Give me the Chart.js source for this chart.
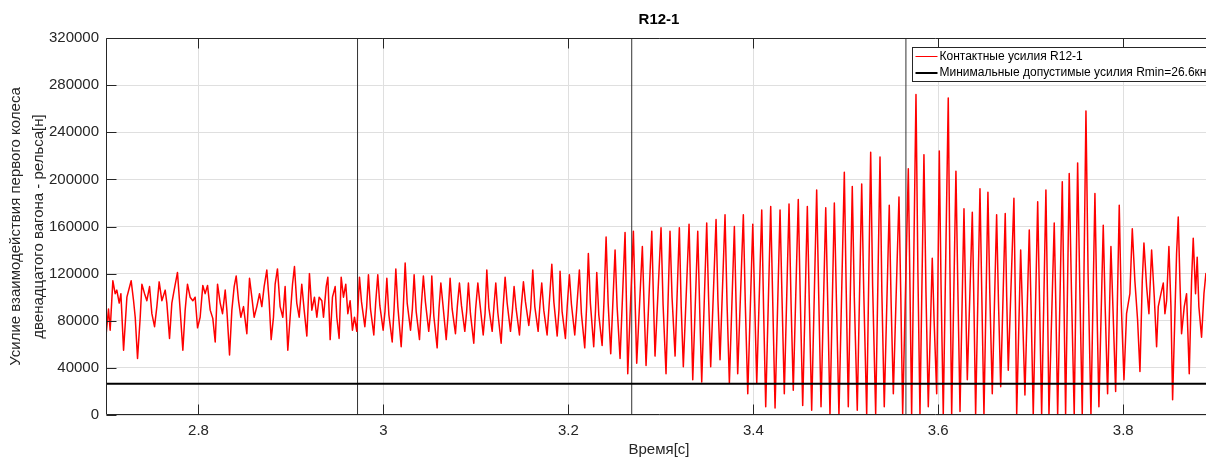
<!DOCTYPE html>
<html lang="ru">
<head>
<meta charset="utf-8">
<title>R12-1</title>
<script src="https://cdn.jsdelivr.net/npm/chart.js@4.4.1/dist/chart.umd.min.js"></script>
<style>
  html, body { margin: 0; padding: 0; background: #fff; overflow: hidden; }
  #wrap { width: 1212px; height: 459px; }
</style>
</head>
<body>
<div id="wrap"><canvas id="force-chart" width="1212" height="459"></canvas></div>
<script>
// Contact force samples: time [s] and force [kN]
const timeS = [
  // 2.70 - 2.97 s: irregular ripple around 85 kN
  2.7002, 2.7027, 2.7045, 2.7074, 2.7099, 2.7117, 2.7143, 2.7161, 2.7190, 2.7226,
  2.7272, 2.7298, 2.7316, 2.7341, 2.7370, 2.7388, 2.7417, 2.7442, 2.7471, 2.7496,
  2.7525, 2.7550, 2.7575, 2.7604, 2.7640, 2.7658, 2.7687, 2.7712, 2.7737, 2.7773,
  2.7802, 2.7831, 2.7856, 2.7881, 2.7910, 2.7939, 2.7964, 2.7990, 2.8018, 2.8047,
  2.8072, 2.8098, 2.8127, 2.8155, 2.8181, 2.8206, 2.8235, 2.8260, 2.8289, 2.8307,
  2.8336, 2.8361, 2.8386, 2.8408, 2.8433, 2.8458, 2.8487, 2.8523, 2.8552, 2.8577,
  2.8602, 2.8631, 2.8660, 2.8685, 2.8710, 2.8739, 2.8764, 2.8786, 2.8811, 2.8829,
  2.8854, 2.8883, 2.8912, 2.8937, 2.8966, 2.8991, 2.9017, 2.9038, 2.9063, 2.9089,
  2.9117, 2.9143, 2.9172, 2.9200, 2.9226, 2.9254, 2.9280, 2.9305, 2.9334, 2.9352,
  2.9381, 2.9399, 2.9424, 2.9449, 2.9478, 2.9496, 2.9521, 2.9543, 2.9568, 2.9593,
  2.9615, 2.9640, 2.9665, 2.9687, 2.9712,
  // 2.97 - 3.24 s: 100 Hz oscillation, small amplitude
  2.9741, 2.9763, 2.9799, 2.9819, 2.9838, 2.9860, 2.9896, 2.9916,
  2.9939, 2.9961, 2.9997, 3.0017, 3.0037, 3.0059, 3.0095, 3.0115,
  3.0134, 3.0156, 3.0192, 3.0212, 3.0235, 3.0257, 3.0293, 3.0313,
  3.0332, 3.0354, 3.0390, 3.0410, 3.0432, 3.0454, 3.0490, 3.0510,
  3.0523, 3.0545, 3.0581, 3.0601, 3.0621, 3.0643, 3.0679, 3.0699,
  3.0721, 3.0743, 3.0779, 3.0799, 3.0822, 3.0844, 3.0880, 3.0900,
  3.0919, 3.0941, 3.0977, 3.0997, 3.1021, 3.1043, 3.1079, 3.1099,
  3.1118, 3.1140, 3.1176, 3.1196, 3.1215, 3.1237, 3.1273, 3.1293,
  3.1316, 3.1338, 3.1374, 3.1394, 3.1413, 3.1435, 3.1471, 3.1491,
  3.1514, 3.1536, 3.1572, 3.1592, 3.1615, 3.1637, 3.1673, 3.1693,
  3.1712, 3.1734, 3.1770, 3.1790, 3.1821, 3.1843, 3.1879, 3.1899,
  3.1910, 3.1932, 3.1968, 3.1988, 3.2011, 3.2033, 3.2069, 3.2089,
  3.2119, 3.2141, 3.2177, 3.2197, 3.2216, 3.2238, 3.2274, 3.2294,
  3.2307, 3.2329, 3.2365, 3.2385,
  // 3.24 - 3.80 s: growing oscillation (peak, shoulder, trough)
  3.2408, 3.2430, 3.2458, 3.2505, 3.2527, 3.2559, 3.2613, 3.2630, 3.2642,
  3.2703, 3.2722, 3.2739, 3.2800, 3.2820, 3.2840, 3.2902, 3.2920, 3.2937,
  3.3002, 3.3024, 3.3056, 3.3099, 3.3121, 3.3154, 3.3200, 3.3220, 3.3243,
  3.3305, 3.3325, 3.3345, 3.3399, 3.3420, 3.3442, 3.3496, 3.3516, 3.3539,
  3.3597, 3.3617, 3.3640, 3.3694, 3.3716, 3.3741, 3.3795, 3.3813, 3.3831,
  3.3892, 3.3914, 3.3940, 3.3994, 3.4014, 3.4037, 3.4091, 3.4111, 3.4134,
  3.4188, 3.4210, 3.4235, 3.4289, 3.4310, 3.4335, 3.4386, 3.4408, 3.4432,
  3.4486, 3.4508, 3.4534, 3.4584, 3.4606, 3.4631, 3.4685, 3.4707, 3.4732,
  3.4783, 3.4805, 3.4829, 3.4876, 3.4898, 3.4926, 3.4984, 3.5004, 3.5027,
  3.5070, 3.5092, 3.5124, 3.5172, 3.5194, 3.5226, 3.5269, 3.5290, 3.5323,
  3.5370, 3.5390, 3.5416, 3.5470, 3.5490, 3.5514, 3.5575, 3.5595, 3.5615,
  3.5676, 3.5694, 3.5712, 3.5759, 3.5780, 3.5802, 3.5845, 3.5867, 3.5892,
  3.5935, 3.5955, 3.5983, 3.6011, 3.6030, 3.6054, 3.6108, 3.6126, 3.6145,
  3.6191, 3.6212, 3.6235, 3.6278, 3.6296, 3.6314, 3.6368, 3.6386, 3.6404,
  3.6451, 3.6471, 3.6494, 3.6537, 3.6557, 3.6584, 3.6631, 3.6651, 3.6675,
  3.6724, 3.6740, 3.6757, 3.6818, 3.6834, 3.6848, 3.6891, 3.6912, 3.6937,
  3.6984, 3.7004, 3.7027, 3.7075, 3.7095, 3.7118, 3.7164, 3.7181, 3.7197,
  3.7254, 3.7272, 3.7291, 3.7341, 3.7358, 3.7377, 3.7416, 3.7440, 3.7470,
  3.7507, 3.7530, 3.7557, 3.7597, 3.7620, 3.7651, 3.7694, 3.7714, 3.7737,
  3.7784, 3.7804, 3.7831, 3.7867, 3.7890, 3.7918, 3.7957, 3.7978, 3.8008,
  // 3.80 - 3.90 s: oscillation dies down
  3.8036, 3.8072, 3.8098, 3.8126, 3.8155, 3.8181, 3.8206, 3.8224, 3.8253, 3.8278,
  3.8307, 3.8336, 3.8361, 3.8379, 3.8408, 3.8433, 3.8451, 3.8469, 3.8494, 3.8516,
  3.8534, 3.8559, 3.8577, 3.8595, 3.8613, 3.8631, 3.8660, 3.8685, 3.8714, 3.8739,
  3.8757, 3.8782, 3.8800, 3.8818, 3.8847, 3.8873, 3.8894, 3.8930, 3.9000
];

const forceKN = [
  69, 90, 72, 114, 103, 106, 95, 103, 55, 100,
  114, 97, 83, 48, 83, 111, 103, 97, 109, 86,
  75, 92, 113, 97, 106, 95, 65, 95, 106, 121,
  89, 55, 89, 111, 100, 97, 100, 74, 83, 110,
  103, 110, 89, 82, 62, 111, 95, 86, 106, 89,
  51, 89, 109, 118, 97, 83, 92, 69, 116, 100,
  83, 92, 103, 92, 109, 123, 97, 64, 83, 111,
  124, 92, 83, 109, 55, 83, 111, 126, 95, 83,
  111, 89, 67, 120, 89, 100, 83, 100, 97, 83,
  109, 117, 64, 100, 109, 83, 65, 117, 100, 111,
  86, 97, 72, 83, 71,

  117, 96, 75, 92, 119, 90, 68, 95,
  119, 93, 72, 88, 116, 85, 62, 90,
  124, 92, 58, 86, 129, 95, 72, 90,
  119, 88, 64, 93, 118, 96, 71, 87,
  118, 84, 57, 90, 112, 94, 64, 85,
  116, 90, 69, 92, 112, 93, 71, 88,
  112, 86, 61, 90, 112, 95, 68, 86,
  123, 91, 71, 93, 112, 87, 61, 90,
  117, 95, 71, 88, 109, 90, 68, 92,
  113, 96, 76, 90, 123, 92, 71, 94,
  112, 89, 68, 91, 128, 96, 67, 90,
  122, 88, 65, 93, 119, 94, 68, 89,
  123, 86, 57, 92, 137, 95, 58, 90,
  121, 85, 59, 96,

  151, 95, 52, 140, 92, 48, 155, 88, 35,
  156, 96, 44, 143, 90, 42, 156, 98, 50,
  159, 94, 35, 156, 100, 50, 159, 92, 41,
  162, 96, 30, 156, 90, 28, 163, 100, 41,
  166, 98, 47, 170, 94, 27, 160, 96, 35,
  170, 92, 18, 162, 98, 27, 174, 90, 7,
  177, 96, 6, 174, 100, 18, 179, 95, 21,
  183, 98, 8, 177, 92, 4, 191, 102, 7,
  176, 94, 0, 180, 100, 0, 206, 108, 7,
  194, 100, 4, 196, 105, 0, 223, 110, 1,
  219, 104, 7, 178, 96, 18, 185, 100, 1,
  209, 108, 0, 272, 120, 0, 221, 104, 7,
  133, 80, 18, 224, 110, 0, 269, 125, 0,
  207, 106, 3, 175, 98, 30, 172, 92, 0,
  192, 100, 0, 189, 104, 18, 170, 96, 24,
  171, 100, 38, 184, 96, 0, 140, 84, 17,
  157, 90, 0, 181, 96, 0, 191, 100, 0,
  163, 90, 0, 198, 104, 0, 205, 106, 0,
  214, 110, 0, 258, 120, 0, 188, 100, 7,
  161, 94, 18, 143, 88, 20, 178, 96, 30,

  86, 103, 158, 114, 81, 37, 114, 146, 109, 86,
  140, 100, 58, 92, 103, 112, 86, 97, 143, 92,
  13, 86, 137, 168, 114, 69, 92, 103, 35, 114,
  150, 103, 134, 92, 66, 103, 120, 95, 88
];

// minimum allowed force and the three vertical markers [s]
const rMinN = 26600;
const markerTimes = [2.972, 3.2685, 3.565];

// axis ticks
const timeTicks = [2.8, 3, 3.2, 3.4, 3.6, 3.8];
const forceTicks = [0, 40000, 80000, 120000, 160000, 200000, 240000, 280000, 320000];
const timeMin = 2.7;
const timeMax = 3.896;

if (timeS.length !== forceKN.length) {
  console.warn("timeS and forceKN differ in length", timeS.length, forceKN.length);
}

const FONT = '"Liberation Sans", Arial, Helvetica, sans-serif';
const AXIS_COLOR = "#262626";
const GRID_COLOR = "#dfdfdf";

const forcePoints = timeS.map((t, i) => ({ x: t, y: forceKN[i] * 1000 }));
const rMinPoints = [{ x: timeMin, y: rMinN }, { x: timeMax, y: rMinN }];
// one dataset, markers separated by gaps
const markerPoints = markerTimes.flatMap((t) => [
  { x: t, y: forceTicks[0] },
  { x: t, y: forceTicks[forceTicks.length - 1] },
  { x: t, y: null },
]);

// axes box and inward tick marks drawn over the data
const axesBox = {
  id: "axesBox",
  afterDatasetsDraw(chart) {
    const { ctx, chartArea: a, scales } = chart;
    const left = Math.round(a.left) + 0.5;
    const top = Math.round(a.top) + 0.5;
    const bottom = Math.round(a.bottom) - 0.5;
    ctx.save();
    ctx.strokeStyle = AXIS_COLOR;
    ctx.lineWidth = 1;
    ctx.beginPath();
    ctx.moveTo(a.right, top);
    ctx.lineTo(left, top);
    ctx.lineTo(left, bottom);
    ctx.lineTo(a.right, bottom);
    timeTicks.forEach((v) => {
      const px = Math.round(scales.x.getPixelForValue(v)) + 0.5;
      ctx.moveTo(px, bottom);
      ctx.lineTo(px, bottom - 10);
      ctx.moveTo(px, top);
      ctx.lineTo(px, top + 10);
    });
    forceTicks.forEach((v) => {
      const py = Math.round(scales.y.getPixelForValue(v)) + 0.5;
      ctx.moveTo(left, py);
      ctx.lineTo(left + 10, py);
    });
    ctx.stroke();
    ctx.restore();
  },
};

// legend box in the upper right corner of the plot
const legendBox = {
  id: "legendBox",
  afterDraw(chart) {
    const { ctx } = chart;
    const items = chart.data.datasets.filter((d) => d.label);
    const bx = 912.5;
    const by = 47.5;
    const rowH = 16.5;
    ctx.save();
    ctx.font = `12px ${FONT}`;
    const textW = Math.max(...items.map((d) => ctx.measureText(d.label).width));
    const w = 30 + textW + 8;
    const h = rowH * items.length + 1;
    ctx.fillStyle = "#ffffff";
    ctx.fillRect(bx, by, w, h);
    ctx.strokeStyle = AXIS_COLOR;
    ctx.lineWidth = 1;
    ctx.strokeRect(bx, by, w, h);
    items.forEach((d, i) => {
      const cy = by + 9 + i * rowH;
      ctx.strokeStyle = d.borderColor;
      ctx.lineWidth = d.legendLineWidth;
      ctx.beginPath();
      ctx.moveTo(bx + 3, cy);
      ctx.lineTo(bx + 25, cy);
      ctx.stroke();
      ctx.fillStyle = "#000000";
      ctx.textBaseline = "middle";
      ctx.textAlign = "left";
      ctx.fillText(d.label, bx + 27, cy);
    });
    ctx.restore();
  },
};

const forceChart = new Chart(document.getElementById("force-chart").getContext("2d"), {
  type: "line",
  data: {
    datasets: [
      {
        label: "Контактные усилия R12-1",
        data: forcePoints,
        borderColor: "#ff0000",
        borderWidth: 1.5,
        borderJoinStyle: "round",
        legendLineWidth: 1,
        pointRadius: 0,
        tension: 0,
        order: 1,
      },
      {
        label: "Минимальные допустимые усилия Rmin=26.6кн",
        data: rMinPoints,
        borderColor: "#000000",
        borderWidth: 2,
        legendLineWidth: 2,
        pointRadius: 0,
        order: 0,
      },
      {
        label: "",
        data: markerPoints,
        borderColor: "#333333",
        borderWidth: 1,
        pointRadius: 0,
        spanGaps: false,
        order: 2,
      },
    ],
  },
  options: {
    responsive: false,
    animation: false,
    events: [],
    layout: { padding: 0 },
    scales: {
      x: {
        type: "linear",
        min: timeMin,
        max: timeMax,
        afterBuildTicks: (s) => {
          s.ticks = timeTicks.map((v) => ({ value: v }));
        },
        afterFit: (s) => {
          s.height = 44;
        },
        grid: { color: GRID_COLOR, drawTicks: false },
        border: { display: false },
        ticks: {
          padding: 7,
          color: AXIS_COLOR,
          maxRotation: 0,
          autoSkip: false,
          font: { family: FONT, size: 15 },
          callback: (v) => String(v),
        },
        title: {
          display: true,
          text: "Время[с]",
          color: AXIS_COLOR,
          padding: { top: 0, bottom: 0 },
          font: { family: FONT, size: 15 },
        },
      },
      y: {
        type: "linear",
        min: forceTicks[0],
        max: forceTicks[forceTicks.length - 1],
        afterBuildTicks: (s) => {
          s.ticks = forceTicks.map((v) => ({ value: v }));
        },
        afterFit: (s) => {
          s.width = 106;
        },
        grid: { color: GRID_COLOR, drawTicks: false },
        border: { display: false },
        ticks: {
          padding: 7,
          color: AXIS_COLOR,
          font: { family: FONT, size: 15 },
          callback: (v) => String(v),
        },
        title: {
          display: true,
          text: ["Усилие взаимодействия первого колеса", "двенадцатого вагона - рельса[н]"],
          color: AXIS_COLOR,
          padding: { top: 4, bottom: 0 },
          font: { family: FONT, size: 15, lineHeight: 1.53 },
        },
      },
    },
    plugins: {
      legend: { display: false },
      tooltip: { enabled: false },
      title: {
        display: true,
        text: "R12-1",
        fullSize: false,
        color: "#000000",
        padding: { top: 11, bottom: 9 },
        font: { family: FONT, size: 15, weight: "bold", lineHeight: 1.2 },
      },
    },
  },
  plugins: [axesBox, legendBox],
});
</script>
</body>
</html>
